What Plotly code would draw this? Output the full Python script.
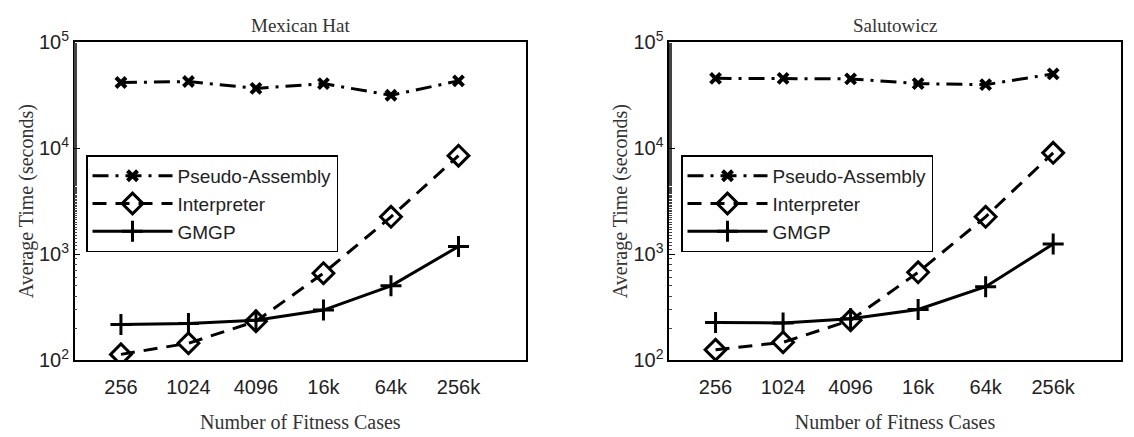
import plotly.graph_objects as go

categories = ["256", "1024", "4096", "16k", "64k", "256k"]
xpos = [1, 2, 3, 4, 5, 6]

titles = ["Mexican Hat", "Salutowicz"]
series_names = ["Pseudo-Assembly", "Interpreter", "GMGP"]

mh_pseudo = [41700, 42600, 36700, 40700, 31600, 43200]
mh_interp = [113, 144, 232, 660, 2250, 8500]
mh_gmgp = [216, 221, 237, 296, 502, 1180]

sa_pseudo = [45700, 45700, 45100, 40700, 39800, 50300]
sa_interp = [125, 147, 237, 673, 2250, 9040]
sa_gmgp = [226, 224, 245, 300, 492, 1245]

ytick_vals = [100, 1000, 10000, 100000]
ytick_text = ["10<sup>2</sup>", "10<sup>3</sup>", "10<sup>4</sup>", "10<sup>5</sup>"]

W, H = 1134, 437
serif = "Liberation Serif"
sans = "Liberation Sans"

styles = [
    dict(dash="16px,7px,3px,7px", symbol="x-thin", size=10, mlw=4),
    dict(dash="14px,9px", symbol="diamond-open", size=16, mlw=3),
    dict(dash="solid", symbol="cross-thin", size=15, mlw=3),
]

fig = go.Figure()

panels = [
    dict(data=[mh_pseudo, mh_interp, mh_gmgp], xa="x", ya="y", leg="legend",
         dom=[74.7 / W, 526 / W]),
    dict(data=[sa_pseudo, sa_interp, sa_gmgp], xa="x2", ya="y2", leg="legend2",
         dom=[669.3 / W, 1120.7 / W]),
]

for p in panels:
    for name, vals, st in zip(series_names, p["data"], styles):
        fig.add_trace(go.Scatter(
            x=xpos, y=vals, name=name, mode="lines+markers",
            xaxis=p["xa"], yaxis=p["ya"], legend=p["leg"],
            line=dict(color="black", width=3, dash=st["dash"]),
            marker=dict(symbol=st["symbol"], size=st["size"], color="black",
                        line=dict(color="black", width=st["mlw"])),
        ))

ydom = [1 - 367 / H, 1 - 30 / H]

axis_common = dict(showline=True, linecolor="black", linewidth=1.5, mirror=True,
                   showgrid=False, zeroline=False)

for i, p in enumerate(panels):
    sfx = "" if i == 0 else str(i + 1)
    fig.update_layout(**{
        "xaxis" + sfx: dict(domain=p["dom"], range=[0.315, 7.0], tickvals=xpos,
                            ticktext=categories, ticks="", anchor="y" + sfx,
                            ticklabelstandoff=8,
                            tickfont=dict(family=sans, size=20, color="#222"),
                            title=dict(text="Number of Fitness Cases",
                                       font=dict(family=serif, size=20, color="#333"),
                                       standoff=18),
                            **axis_common),
        "yaxis" + sfx: dict(domain=ydom, type="log", range=[2, 5],
                            tickvals=ytick_vals, ticktext=ytick_text,
                            ticks="inside", ticklen=6, tickcolor="black",
                            minor=dict(ticks="inside", ticklen=3, tickcolor="#444",
                                       showgrid=False),
                            anchor="x" + sfx,
                            tickfont=dict(family=sans, size=20, color="#222"),
                            title=dict(text="Average Time (seconds)",
                                       font=dict(family=serif, size=20, color="#333"),
                                       standoff=0),
                            **axis_common),
    })

legend_common = dict(bgcolor="white", bordercolor="black", borderwidth=1.5,
                     font=dict(family=sans, size=19, color="#222"),
                     xanchor="left", yanchor="top", itemwidth=80,
                     tracegroupgap=0)

fig.update_layout(
    width=W, height=H,
    margin=dict(l=0, r=0, t=0, b=0),
    paper_bgcolor="white", plot_bgcolor="white",
    legend=dict(x=86 / W, y=1 - 150 / H, **legend_common),
    legend2=dict(x=681 / W, y=1 - 150 / H, **legend_common),
    annotations=[
        dict(text=titles[0], x=300 / W, y=1.0, xref="paper", yref="paper",
             showarrow=False, font=dict(family=serif, size=19, color="#333"),
             xanchor="center", yanchor="top", borderpad=0),
        dict(text=titles[1], x=895 / W, y=1.0, xref="paper", yref="paper",
             showarrow=False, font=dict(family=serif, size=19, color="#333"),
             xanchor="center", yanchor="top", borderpad=0),
    ],
)

fig.write_html("out.html")
